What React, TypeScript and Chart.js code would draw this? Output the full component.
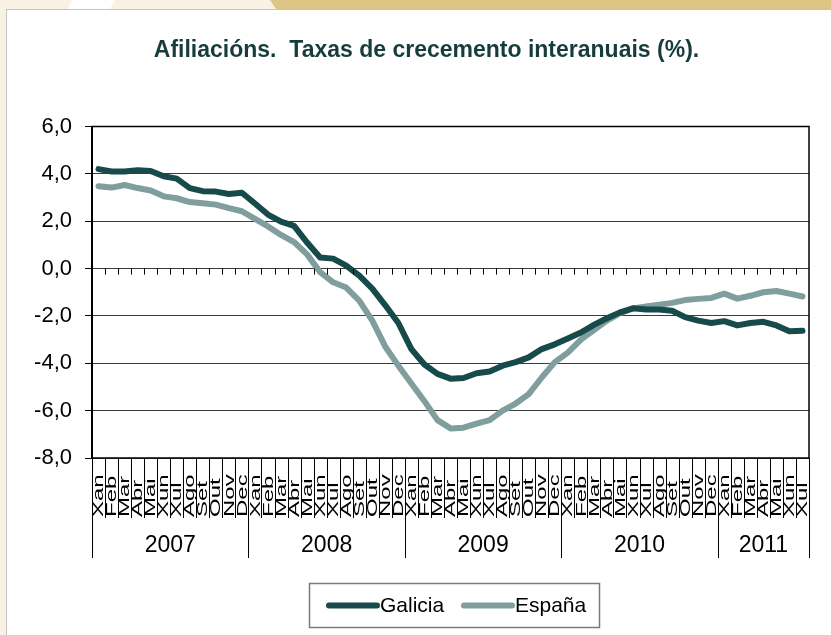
import React, { useEffect, useRef } from "react";
import { Chart, registerables } from "chart.js";

Chart.register(...registerables);

const titleText = "Afiliacións.  Taxas de crecemento interanuais (%).";
const monthNames = ["Xan", "Feb", "Mar", "Abr", "Mai", "Xun", "Xul", "Ago", "Set", "Out", "Nov", "Dec"];
const years = ["2007", "2008", "2009", "2010", "2011"];
const monthsPerYear = [12, 12, 12, 12, 7];
const categories: string[] = years.flatMap((y, i) => monthNames.slice(0, monthsPerYear[i]));

const galicia = [
  4.2, 4.1, 4.1, 4.15, 4.12, 3.9, 3.8, 3.4, 3.27, 3.25, 3.15, 3.2,
  2.75, 2.28, 1.98, 1.8, 1.1, 0.47, 0.42, 0.12, -0.3, -0.85, -1.55, -2.3,
  -3.4, -4.05, -4.45, -4.65, -4.62, -4.42, -4.35, -4.1, -3.95, -3.75, -3.4, -3.2,
  -2.95, -2.7, -2.38, -2.1, -1.85, -1.68, -1.73, -1.73, -1.78, -2.05, -2.2, -2.3,
  -2.22, -2.4, -2.3, -2.25, -2.4, -2.65, -2.63,
];
const espana = [
  3.48, 3.42, 3.53, 3.4, 3.3, 3.05, 2.97, 2.81, 2.76, 2.7, 2.55, 2.42,
  2.1, 1.78, 1.42, 1.12, 0.6, -0.15, -0.58, -0.8, -1.35, -2.2, -3.3, -4.1,
  -4.85, -5.6, -6.4, -6.75, -6.72, -6.55, -6.4, -6.0, -5.7, -5.3, -4.6, -3.95,
  -3.55, -3.0, -2.6, -2.2, -1.88, -1.68, -1.6, -1.53, -1.45, -1.33, -1.28, -1.24,
  -1.06, -1.27, -1.15, -1.0, -0.95, -1.06, -1.18,
];
const seriesNames = ["Galicia", "España"];
const yMin = -8;
const yMax = 6;
const yStep = 2;

const FONT = "'Liberation Sans', Arial, sans-serif";
const galiciaColor = "#174a4a";
const espanaColor = "#809e9d";

const decorPlugin = {
  id: "decor",
  afterDraw(chart: any) {
    const ctx = chart.ctx as CanvasRenderingContext2D;
    const area = chart.chartArea;
    const xs = chart.scales.x;
    const ys = chart.scales.y;
    const n = categories.length;
    const step = (area.right - area.left) / n;
    const boundary = (k: number) => {
      if (k === 0) return xs.getPixelForValue(0) - step / 2;
      if (k === n) return xs.getPixelForValue(n - 1) + step / 2;
      return (xs.getPixelForValue(k - 1) + xs.getPixelForValue(k)) / 2;
    };
    ctx.save();
    // plot border
    ctx.strokeStyle = "#000";
    ctx.lineWidth = 1.5;
    ctx.strokeRect(area.left, area.top, area.right - area.left, area.bottom - area.top);
    // small ticks on zero line
    const y0 = ys.getPixelForValue(0);
    ctx.lineWidth = 1;
    ctx.strokeStyle = "#000";
    ctx.beginPath();
    for (let k = 1; k < n; k++) {
      const x = Math.round(boundary(k)) + 0.5;
      ctx.moveTo(x, y0);
      ctx.lineTo(x, y0 + 6);
    }
    ctx.stroke();
    // category separators below the plot
    const yearBounds = new Set<number>();
    let acc = 0;
    yearBounds.add(0);
    monthsPerYear.forEach((c) => {
      acc += c;
      yearBounds.add(acc);
    });
    ctx.beginPath();
    for (let k = 0; k <= n; k++) {
      const x = Math.round(boundary(k)) + 0.5;
      ctx.moveTo(x, area.bottom);
      ctx.lineTo(x, area.bottom + (yearBounds.has(k) ? 100 : 60));
    }
    ctx.stroke();
    // month labels (rotated)
    ctx.fillStyle = "#000";
    ctx.font = `15px ${FONT}`;
    ctx.textAlign = "left";
    ctx.textBaseline = "middle";
    categories.forEach((lab, i) => {
      const x = xs.getPixelForValue(i);
      ctx.save();
      ctx.translate(x + 0.5, area.bottom + 59);
      ctx.rotate(-Math.PI / 2);
      ctx.scale(1.6, 1);
      ctx.fillText(lab, 0, 0);
      ctx.restore();
    });
    // year labels
    ctx.font = `23px ${FONT}`;
    ctx.textAlign = "center";
    ctx.textBaseline = "alphabetic";
    let start = 0;
    years.forEach((yr, i) => {
      const end = start + monthsPerYear[i];
      const cx = (boundary(start) + boundary(end)) / 2;
      ctx.fillText(yr, cx, area.bottom + 94);
      start = end;
    });
    // title
    ctx.font = `bold 23px ${FONT}`;
    ctx.fillStyle = "#173c3c";
    ctx.textAlign = "center";
    ctx.fillText(titleText, 419.5, 47);
    // legend
    const lx = 302.5, ly = 573.5, lw = 290, lh = 44;
    ctx.strokeStyle = "#7a7a7a";
    ctx.lineWidth = 1.5;
    ctx.strokeRect(lx, ly, lw, lh);
    const ds = chart.data.datasets;
    const items = [
      { x1: 322, x2: 370, tx: 373 },
      { x1: 457, x2: 505, tx: 508 },
    ];
    ctx.font = `21px ${FONT}`;
    ctx.textAlign = "left";
    ctx.textBaseline = "middle";
    items.forEach((it, i) => {
      const cy = ly + lh / 2;
      ctx.strokeStyle = ds[i].borderColor;
      ctx.lineWidth = 6;
      ctx.lineCap = "round";
      ctx.beginPath();
      ctx.moveTo(it.x1, cy);
      ctx.lineTo(it.x2, cy);
      ctx.stroke();
      ctx.fillStyle = "#000";
      ctx.fillText(ds[i].label, it.tx, cy + 1);
    });
    ctx.restore();
  },
};

export default function App() {
  const ref = useRef<HTMLCanvasElement | null>(null);
  useEffect(() => {
    if (!ref.current) return;
    Chart.defaults.font.family = FONT;
    const chart = new Chart(ref.current, {
      type: "line",
      data: {
        labels: categories,
        datasets: [
          {
            label: seriesNames[0],
            data: galicia,
            borderColor: galiciaColor,
            backgroundColor: galiciaColor,
            borderWidth: 6,
            pointRadius: 0,
            tension: 0,
            borderJoinStyle: "round",
            borderCapStyle: "round",
          },
          {
            label: seriesNames[1],
            data: espana,
            borderColor: espanaColor,
            backgroundColor: espanaColor,
            borderWidth: 6,
            pointRadius: 0,
            tension: 0,
            borderJoinStyle: "round",
            borderCapStyle: "round",
          },
        ],
      },
      options: {
        responsive: false,
        animation: false,
        layout: { padding: { top: 116.5, right: 22, left: 0, bottom: 0 } },
        plugins: { legend: { display: false }, title: { display: false }, tooltip: { enabled: false } },
        scales: {
          x: {
            type: "category",
            offset: true,
            grid: { display: false, drawTicks: false },
            border: { display: false },
            ticks: { display: false },
            afterFit: (axis: any) => {
              axis.height = 177;
            },
          },
          y: {
            min: yMin,
            max: yMax,
            ticks: {
              stepSize: yStep,
              color: "#000",
              padding: 13,
              font: { size: 22, family: FONT },
              callback: (v: any) => Number(v).toFixed(1).replace(".", ","),
            },
            grid: { color: "#3c3c3c", lineWidth: 1, tickLength: 7, drawTicks: true, tickColor: "#000" },
            border: { display: true, color: "#000", width: 2 },
            afterFit: (axis: any) => {
              axis.width = 85;
            },
          },
        },
      },
      plugins: [decorPlugin],
    });
    return () => chart.destroy();
  }, []);

  return (
    <div style={{ position: "absolute", left: 0, top: 0, width: 831, height: 635, background: "#f9f1e3", overflow: "hidden" }}>
      <div
        style={{
          position: "absolute", left: 0, top: 0, width: 831, height: 9, background: "#ddc585",
          clipPath: "polygon(270px 0, 831px 0, 831px 9px, 276px 9px)",
        }}
      />
      <div
        style={{
          position: "absolute", left: 0, top: 0, width: 831, height: 9, background: "#ffffff",
          clipPath: "polygon(72px 0, 115px 0, 110px 9px, 68px 9px)",
        }}
      />
      <div
        style={{
          position: "absolute", left: 6, top: 9, width: 825, height: 626, background: "#fff",
          borderLeft: "1px solid #c4c4c4", borderTop: "1px solid #c4c4c4",
        }}
      >
        <canvas ref={ref} width={824} height={625} style={{ display: "block", width: 824, height: 625 }} />
      </div>
    </div>
  );
}
